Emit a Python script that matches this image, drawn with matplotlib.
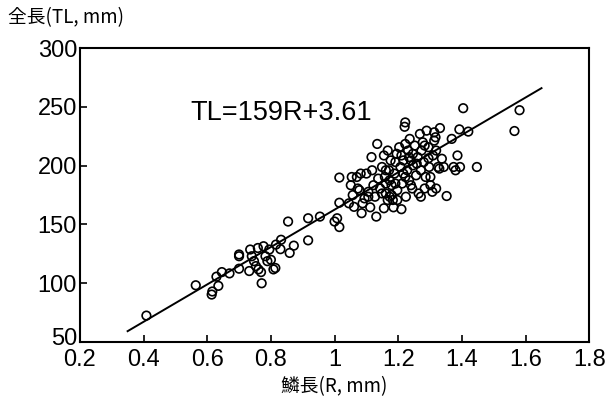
import matplotlib
matplotlib.use("Agg")
import matplotlib.pyplot as plt
import matplotlib.transforms as mtransforms
import numpy as np

# scale length R (mm) and total length TL (mm)
r_mm = [0.409, 0.564, 0.614, 0.616, 0.629, 0.635, 0.646, 0.670, 0.700, 0.700,
        0.700, 0.732, 0.735, 0.740, 0.747, 0.753, 0.759, 0.761, 0.769, 0.771,
        0.777, 0.783, 0.789, 0.795, 0.800, 0.808, 0.814, 0.816, 0.832, 0.830,
        0.854, 0.859, 0.872, 0.917, 0.917, 0.954, 1.000, 1.008, 1.015, 1.015,
        1.015,
        1.045, 1.051, 1.054, 1.057, 1.061, 1.070, 1.073, 1.078, 1.082, 1.085,
        1.088, 1.094, 1.100, 1.106, 1.112, 1.116, 1.118, 1.122, 1.127, 1.131,
        1.134, 1.137, 1.143, 1.149, 1.155, 1.155, 1.158, 1.161, 1.167, 1.171,
        1.173, 1.176, 1.179, 1.183, 1.185, 1.188, 1.191, 1.195, 1.197, 1.203,
        1.207, 1.210, 1.212, 1.216, 1.220, 1.222, 1.222, 1.224, 1.228, 1.231,
        1.234, 1.236, 1.240, 1.244, 1.246, 1.252, 1.256, 1.261, 1.264, 1.268,
        1.271, 1.273, 1.277, 1.280, 1.283, 1.286, 1.289, 1.295, 1.297, 1.301,
        1.307, 1.309, 1.313, 1.317, 1.319, 1.325, 1.329, 1.331, 1.337, 1.343,
        1.352, 1.368, 1.374, 1.380, 1.386, 1.392, 1.394, 1.420, 1.404, 1.447,
        1.565, 1.581,
        1.161, 1.173, 1.191, 1.197, 1.234, 1.246, 1.258, 1.210, 1.222, 1.301,
        1.271, 1.240, 1.106, 1.149, 1.167, 1.179, 1.161, 1.216, 1.319, 1.283,
        1.295, 1.313]
tl_mm = [72.5, 98.3, 90.4, 93.0, 105.6, 97.8, 109.5, 108.4, 112.4, 123.0,
         124.5, 110.4, 128.7, 123.0, 118.8, 114.6, 130.0, 111.8, 109.5, 100.0,
         131.5, 123.0, 118.8, 128.7, 120.0, 111.8, 113.0, 132.9, 137.0, 129.0,
         152.5, 125.8, 132.0, 155.3, 136.5, 156.7, 152.5, 155.3, 147.8, 189.9,
         168.5,
         168.0, 183.4, 190.4, 175.0, 165.0, 190.4, 180.6, 179.2, 193.3, 159.6,
         168.0, 172.2, 193.3, 177.8, 164.6, 207.3, 196.1, 183.4, 173.6, 156.7,
         218.5, 189.0, 180.6, 198.9, 163.8, 208.7, 190.4, 176.4, 212.9, 196.1,
         173.6, 204.5, 183.4, 170.8, 164.6, 193.3, 203.1, 210.1, 179.2, 215.7,
         198.9, 163.0, 184.8, 204.5, 233.1, 236.8, 218.5, 173.6, 196.1, 212.9,
         187.6, 222.8, 204.5, 180.6, 200.3, 217.1, 191.8, 207.3, 176.4, 227.0,
         196.1, 212.9, 219.9, 203.1, 180.6, 190.4, 229.8, 215.7, 198.9, 190.4,
         177.8, 208.7, 221.3, 224.2, 212.9, 198.9, 197.5, 232.0, 205.9, 198.9,
         174.2, 222.8, 198.9, 196.1, 208.7, 230.9, 198.9, 229.0, 248.9, 198.9,
         229.5, 247.2,
         184.8, 187.6, 184.8, 170.8, 207.3, 210.1, 201.7, 208.7, 190.4, 183.4,
         173.6, 183.4, 173.6, 176.4, 170.8, 175.0, 196.1, 193.3, 180.6, 217.1,
         206.3, 228.4]

# regression TL = 159R + 3.61, drawn over this R range
slope = 159
intercept = 3.61
fit_range = [0.35, 1.65]

plt.rcParams["font.family"] = ["Liberation Sans", "DejaVu Sans"]
cjk = ["Noto Sans CJK JP", "DejaVu Sans"]

fig = plt.figure(figsize=(6.05, 4.01), dpi=100)
ax = fig.add_axes([0.132, 0.147, 0.842, 0.733])

ax.scatter(r_mm, tl_mm, s=38, facecolors="none", edgecolors="black",
           linewidths=1.2, zorder=3)

xf = np.array(fit_range)
ax.plot(xf, slope * xf + intercept, color="black", linewidth=1.4, zorder=2)

ax.text(0.546, 245, "TL=159R+3.61", fontsize=19.5, va="center", ha="left")

ax.set_xlim(0.2, 1.8)
ax.set_ylim(50, 300)
ax.set_xticks([0.2, 0.4, 0.6, 0.8, 1.0, 1.2, 1.4, 1.6, 1.8])
ax.set_xticklabels(["0.2", "0.4", "0.6", "0.8", "1", "1.2", "1.4", "1.6", "1.8"])
ax.set_yticks([50, 100, 150, 200, 250, 300])
ax.tick_params(direction="in", length=5, width=1.2, labelsize=17)
ax.tick_params(axis="x", pad=5)
ax.tick_params(axis="y", pad=2)
for sp in ax.spines.values():
    sp.set_linewidth(1.5)

# lift the bottom "50" a little so it sits just above "0.2"
lab50 = ax.get_yticklabels()[0]
lab50.set_transform(lab50.get_transform()
                    + mtransforms.ScaledTranslation(0, 4 / 72, fig.dpi_scale_trans))

fig.text(0.013, 0.955, "全長(TL, mm)", fontsize=13.5, family=cjk, ha="left", va="center")
fig.text(0.553, 0.035, "鱗長(R, mm)", fontsize=13.5, family=cjk, ha="center", va="center")

fig.savefig("out.png", dpi=100)
